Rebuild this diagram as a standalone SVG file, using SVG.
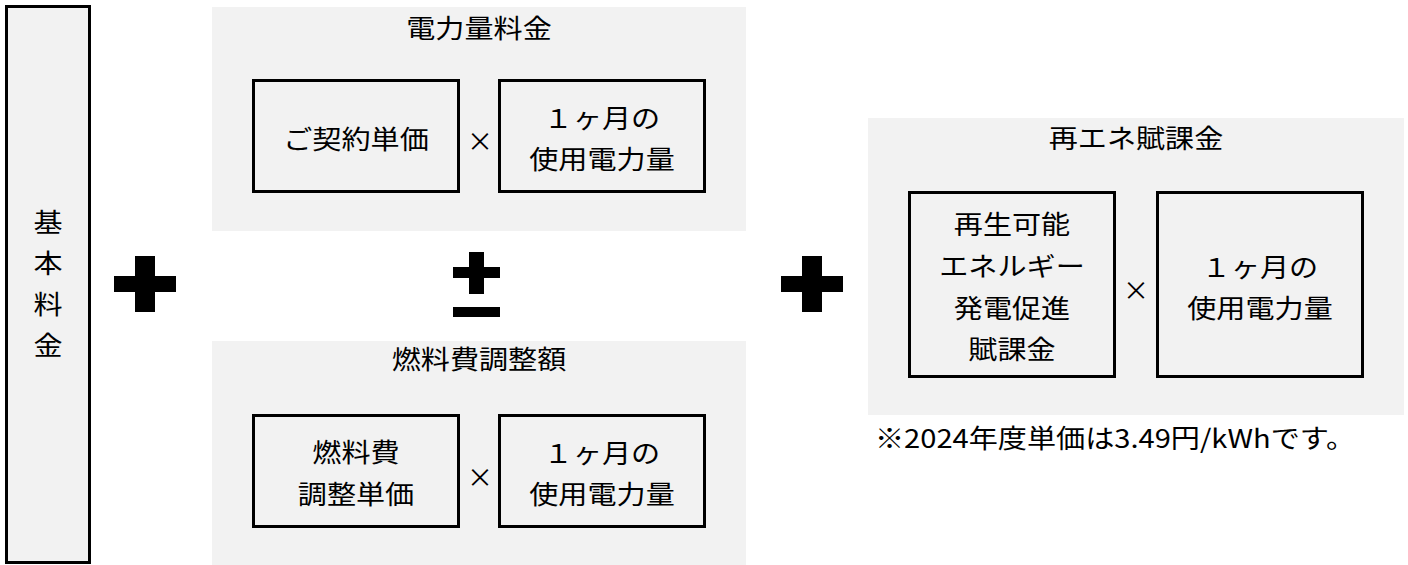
<svg xmlns="http://www.w3.org/2000/svg" width="1408" height="565" viewBox="0 0 1408 565">
<style>
.panel{fill:#f2f2f2}
.box{fill:#f2f2f2;stroke:#000;stroke-width:3}
.t{font-family:"Noto Sans CJK JP","Noto Sans",sans-serif;font-size:26px;fill:#000;text-anchor:middle;dominant-baseline:central}
.s{text-anchor:start}
.op{fill:#000}
</style>
<rect x="0" y="0" width="1408" height="565" fill="#fff"/>

<g id="kihon">
<rect class="box" x="6.5" y="6.5" width="83" height="556"/>
<text class="t" transform="translate(48,221) scale(1.12,1)">基</text>
<text class="t" transform="translate(48,262) scale(1.12,1)">本</text>
<text class="t" transform="translate(48,303) scale(1.12,1)">料</text>
<text class="t" transform="translate(48,344) scale(1.12,1)">金</text>
</g>

<g id="denryoku">
<rect class="panel" x="212" y="7" width="534" height="224"/>
<text class="t" transform="translate(479,27) scale(1.12,1)">電力量料金</text>
<g id="keiyaku-tanka">
<rect class="box" x="253.5" y="80.5" width="205" height="111"/>
<text class="t" transform="translate(356,138) scale(1.12,1)">ご契約単価</text>
</g>
<text class="t" transform="translate(480,139)">×</text>
<g id="shiyou1">
<rect class="box" x="499.5" y="80.5" width="205" height="111"/>
<text class="t" transform="translate(602,117) scale(1.12,1)">１ヶ月の</text>
<text class="t" transform="translate(602,158) scale(1.12,1)">使用電力量</text>
</g>
</g>

<g id="nenryou">
<rect class="panel" x="212" y="341" width="534" height="224"/>
<text class="t" transform="translate(479,358) scale(1.12,1)">燃料費調整額</text>
<g id="chousei-tanka">
<rect class="box" x="253.5" y="415.5" width="205" height="111"/>
<text class="t" transform="translate(356,451) scale(1.12,1)">燃料費</text>
<text class="t" transform="translate(356,493) scale(1.12,1)">調整単価</text>
</g>
<text class="t" transform="translate(480,475)">×</text>
<g id="shiyou2">
<rect class="box" x="499.5" y="415.5" width="205" height="111"/>
<text class="t" transform="translate(602,452) scale(1.12,1)">１ヶ月の</text>
<text class="t" transform="translate(602,493) scale(1.12,1)">使用電力量</text>
</g>
</g>

<g id="saiene">
<rect class="panel" x="868" y="118" width="536" height="297"/>
<text class="t" transform="translate(1136,137) scale(1.12,1)">再エネ賦課金</text>
<g id="fukakin">
<rect class="box" x="909.5" y="192.5" width="205" height="184"/>
<text class="t" transform="translate(1012,223) scale(1.12,1)">再生可能</text>
<text class="t" transform="translate(1012,265) scale(1.12,1)">エネルギー</text>
<text class="t" transform="translate(1012,307) scale(1.12,1)">発電促進</text>
<text class="t" transform="translate(1012,348) scale(1.12,1)">賦課金</text>
</g>
<text class="t" transform="translate(1136,288)">×</text>
<g id="shiyou3">
<rect class="box" x="1157.5" y="192.5" width="205" height="184"/>
<text class="t" transform="translate(1260,266) scale(1.12,1)">１ヶ月の</text>
<text class="t" transform="translate(1260,307) scale(1.12,1)">使用電力量</text>
</g>
</g>

<g id="note">
<text class="t s" transform="translate(875,437) scale(1.12,1)">※2024年度単価は3.49円/kWhです。</text>
</g>

<g id="operators">
<path class="op" d="M114 276H135V256H155V276H176V292H155V312H135V292H114Z"/>
<path class="op" d="M781 276H802V256H822V276H843V292H822V312H802V292H781Z"/>
<path class="op" d="M453 267H469V252H484V267H500V278H484V294H469V278H453Z"/>
<rect class="op" x="453" y="307" width="47" height="10"/>
</g>
</svg>
